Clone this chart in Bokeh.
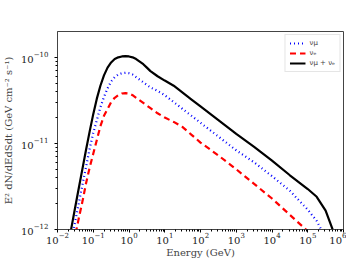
from bokeh.plotting import figure
from bokeh.models import Range1d, FixedTicker, Legend, LegendItem
from bokeh.embed import file_html
from bokeh.resources import INLINE

# Energy grid (GeV), as log10 values
log_energy = [-1.7, -1.6, -1.5, -1.4, -1.3, -1.2, -1.1, -1.0, -0.9, -0.8, -0.7, -0.6,
              -0.5, -0.4, -0.3, -0.2, -0.1, 0.0, 0.1, 0.2, 0.3, 0.4, 0.5, 0.6,
              0.8, 1.0, 1.25, 1.5, 1.75, 2.0, 2.5, 3.0, 3.5, 4.0, 4.5, 5.0, 5.25, 5.5, 5.75]
# log10 of E^2 dN/dEdSdt (GeV cm^-2 s^-1)
log_numu = [-12.3, -12.1, -11.895, -11.685, -11.475, -11.27, -11.06, -10.88, -10.73, -10.58,
            -10.46, -10.36, -10.28, -10.23, -10.20, -10.185, -10.18, -10.185, -10.20, -10.23,
            -10.26, -10.29, -10.32, -10.35, -10.39, -10.44, -10.52, -10.60, -10.68, -10.76,
            -10.92, -11.08, -11.22, -11.38, -11.55, -11.77, -11.90, -12.1, -12.4]
log_nue = [-12.5, -12.26, -12.06, -11.86, -11.67, -11.46, -11.28, -11.12, -10.96, -10.80,
           -10.68, -10.60, -10.52, -10.47, -10.44, -10.42, -10.415, -10.42, -10.44, -10.47,
           -10.50, -10.53, -10.56, -10.59, -10.65, -10.70, -10.75, -10.81, -10.90, -10.99,
           -11.14, -11.30, -11.47, -11.64, -11.83, -12.02, -12.2, -12.5, -12.9]
log_total = [-12.18, -11.955, -11.73, -11.51, -11.29, -11.07, -10.86, -10.66, -10.48, -10.33,
             -10.21, -10.12, -10.06, -10.02, -10.00, -9.99, -9.985, -9.99, -10.00, -10.02,
             -10.05, -10.08, -10.12, -10.16, -10.22, -10.27, -10.33, -10.41, -10.49, -10.57,
             -10.73, -10.89, -11.04, -11.20, -11.37, -11.53, -11.62, -11.78, -12.06]

x_major = [1e-2, 1e-1, 1e0, 1e1, 1e2, 1e3, 1e4, 1e5, 1e6]
y_major = [1e-12, 1e-11, 1e-10]

energy = [10 ** v for v in log_energy]
numu = [10 ** v for v in log_numu]
nue = [10 ** v for v in log_nue]
total = [10 ** v for v in log_total]

p = figure(frame_width=286, frame_height=198, x_axis_type="log", y_axis_type="log",
           x_range=Range1d(1e-2, 1e6), y_range=Range1d(1e-12, 10 ** -9.70),
           output_backend="svg", toolbar_location=None,
           min_border_left=54, min_border_right=3, min_border_top=31, min_border_bottom=10)

r1 = p.line(energy, numu, line_color="blue", line_width=2.2, line_dash="1 3")
r2 = p.line(energy, nue, line_color="red", line_width=2.2, line_dash="6 4")
r3 = p.line(energy, total, line_color="black", line_width=2.2)

x_minor = [m * d for d in x_major[:-1] for m in range(2, 10)]
y_minor = [m * d for d in [1e-12, 1e-11, 1e-10] for m in range(2, 10)]
p.xaxis.ticker = FixedTicker(ticks=x_major, minor_ticks=x_minor)
p.yaxis.ticker = FixedTicker(ticks=y_major, minor_ticks=y_minor)

p.xgrid.visible = False
p.ygrid.visible = False
p.outline_line_color = "#444444"
p.outline_line_width = 1

for ax in (p.xaxis[0], p.yaxis[0]):
    ax.axis_line_color = "#444444"
    ax.major_tick_in = 0
    ax.major_tick_out = 3
    ax.minor_tick_in = 0
    ax.minor_tick_out = 2
    ax.major_label_standoff = 0
    ax.major_label_text_font = "DejaVu Serif"
    ax.major_label_text_font_size = "10px"
    ax.major_label_text_color = "#222222"
    ax.axis_label_text_font = "DejaVu Serif"
    ax.axis_label_text_font_size = "10px"
    ax.axis_label_text_font_style = "normal"
    ax.axis_label_standoff = 0

p.yaxis.major_label_standoff = 6
p.yaxis.axis_label_standoff = 4

p.xaxis.axis_label = "Energy (GeV)"
p.yaxis.axis_label = "E² dN/dEdSdt (GeV cm⁻² s⁻¹)"

legend = Legend(items=[LegendItem(label="νμ", renderers=[r1]),
                       LegendItem(label="νₑ", renderers=[r2]),
                       LegendItem(label="νμ + νₑ", renderers=[r3])],
                location="top_right")
legend.label_text_font_size = "7px"
legend.label_text_font = "DejaVu Sans"
legend.glyph_width = 16
legend.glyph_height = 8
legend.label_height = 8
legend.spacing = 2
legend.padding = 4
legend.margin = 3
legend.border_line_color = "#cccccc"
legend.label_standoff = 4
p.add_layout(legend)

open("out.html", "w").write(file_html(p, INLINE))
